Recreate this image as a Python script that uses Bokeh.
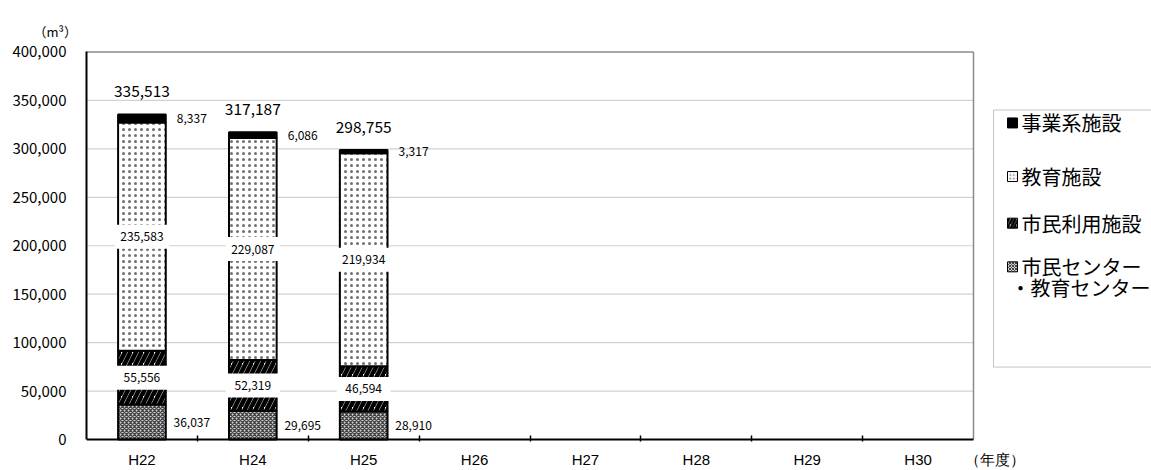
import numpy as np
from bokeh.plotting import figure
from bokeh.models import Range1d, FixedTicker, NumeralTickFormatter
from bokeh.core.properties import value
from bokeh.embed import file_html
from bokeh.resources import INLINE

# ---- data (m3 per fiscal year) ----
years = ["H22", "H24", "H25", "H26", "H27", "H28", "H29", "H30"]
center_vals = [36037, 29695, 28910]      # 市民センター・教育センター
civic_vals = [55556, 52319, 46594]       # 市民利用施設
school_vals = [235583, 229087, 219934]   # 教育施設
office_vals = [8337, 6086, 3317]         # 事業系施設
y_ticks = [0, 50000, 100000, 150000, 200000, 250000, 300000, 350000, 400000]
legend_labels = ["事業系施設", "教育施設", "市民利用施設", "市民センター", "・教育センター"]
unit_label = "（m³）"
year_unit_label = "（年度）"

# ---- layout constants ----
W, H = 1151, 470
LEFT, TOP, BOTTOM = 86, 50, 26
CAT_W = 887                      # pixel width of the category area
n = len(years)
ppu = CAT_W / n
x_end = (W - LEFT) / ppu
y_max = y_ticks[-1]
Y0_PX, YMAX_PX = 442.0, 51.5     # page rows of the zero line and the top line
k = y_max / (Y0_PX - YMAX_PX)
y_start = -((H - BOTTOM) - Y0_PX) * k
y_end = (Y0_PX - TOP) * k
BAR_W = 0.43

NUM_FONT = "Noto Sans CJK JP"
LAT_FONT = "Liberation Sans"
JP_FONT = "Noto Sans CJK JP"


def sx(px):
    return (px - LEFT) / ppu


def sy(py):
    return (Y0_PX - py) * k


p = figure(width=W, height=H, x_range=Range1d(0, x_end), y_range=Range1d(y_start, y_end),
           output_backend="svg", toolbar_location=None, title=unit_label,
           min_border_left=LEFT, min_border_right=0, min_border_top=TOP,
           min_border_bottom=BOTTOM)
p.outline_line_color = None
p.xgrid.visible = False
p.ygrid.visible = False
p.background_fill_color = "white"

p.title.align = "left"
p.title.offset = 33 - LEFT
p.title.standoff = 19
p.title.text_font = JP_FONT
p.title.text_font_size = "13px"
p.title.text_font_style = "normal"
p.title.text_color = "black"

# horizontal grid lines limited to the category area
grid_y = y_ticks[1:-1]
p.segment(x0=[0] * len(grid_y), x1=[n] * len(grid_y), y0=grid_y, y1=grid_y,
          line_color="#d2d2d2", line_width=1.2)
# top and right border of the plot area
p.segment(x0=[0, n], x1=[n, n], y0=[y_max, 0], y1=[y_max, y_max],
          line_color="#8a8a8a", line_width=1.5)

# ---- stacked bars ----
xs = np.arange(len(center_vals)) + 0.5
c = np.array(center_vals, dtype=float)
cv = np.array(civic_vals, dtype=float)
s = np.array(school_vals, dtype=float)
o = np.array(office_vals, dtype=float)
b1 = c
b2 = b1 + cv
b3 = b2 + s
tot = b3 + o

styles = {
    "center": dict(fill_color="#d0d0d0", hatch_pattern="diagonal_cross", hatch_color="#444444",
                   hatch_scale=4, hatch_weight=1.3),
    "civic": dict(fill_color="white", hatch_pattern="right_diagonal_line", hatch_color="black",
                  hatch_scale=11, hatch_weight=4.5),
    "school": dict(fill_color="white", hatch_pattern="dot", hatch_color="#707070",
                   hatch_scale=6, hatch_weight=1.3),
    "office": dict(fill_color="black"),
}

p.vbar(x=xs, width=BAR_W, bottom=0, top=b1, line_color="black", line_width=2, **styles["center"])
p.vbar(x=xs, width=BAR_W, bottom=b1, top=b2, line_color="black", line_width=2, **styles["civic"])
p.vbar(x=xs, width=BAR_W, bottom=b2, top=b3, line_color="black", line_width=2, **styles["school"])
p.vbar(x=xs, width=BAR_W, bottom=b3, top=tot, line_color="black", line_width=2, **styles["office"])

# x axis base line across the category area only
p.segment(x0=[0], x1=[n], y0=[0], y1=[0], line_color="black", line_width=2)


def fmt(v):
    return f"{int(v):,}"


# boxed labels in the middle of the two tall segments
for mids, vals in ((b1 + cv / 2, cv), (b2 + s / 2, s)):
    p.rect(x=xs, y=mids, width=54, height=24, width_units="screen", height_units="screen",
           fill_color="white", line_color=None)
    p.text(x=xs, y=mids, text=[fmt(v) for v in vals], text_align="center",
           text_baseline="middle", text_font=value(NUM_FONT), text_font_size="12px",
           text_color="black")

# labels beside the bar for the thin segments
for mids, vals in ((c / 2, c), (b3 + o / 2, o)):
    p.text(x=xs + 0.45, y=mids, text=[fmt(v) for v in vals], text_align="center",
           text_baseline="middle", text_font=value(NUM_FONT), text_font_size="12px",
           text_color="black")

# totals above each bar
p.text(x=xs, y=tot, y_offset=-23, text=[fmt(v) for v in tot], text_align="center",
       text_baseline="middle", text_font=value(NUM_FONT), text_font_size="15.5px",
       text_color="black")

# ---- legend ----
p.quad(left=sx(993), right=x_end + 1, top=sy(110), bottom=sy(369),
       fill_color="white", line_color="#c4c4c4", line_width=1)
rows_py = [123, 177, 224, 268]
marker_styles = [styles["office"], styles["school"], styles["civic"], styles["center"]]
for py, st in zip(rows_py, marker_styles):
    st2 = dict(st)
    if "hatch_scale" in st2:
        st2["hatch_scale"] = max(3, st2["hatch_scale"] * 0.6)
        st2["hatch_weight"] = max(1.0, st2["hatch_weight"] * 0.6)
    p.rect(x=sx(1012), y=sy(py), width=10, height=10, width_units="screen",
           height_units="screen", line_color="black", line_width=1, **st2)
p.text(x=[sx(1021)] * 4, y=[sy(v) for v in rows_py], text=legend_labels[:4],
       text_align="left", text_baseline="middle", text_font=value(JP_FONT),
       text_font_size="20px", text_color="black")
p.text(x=[sx(1010)], y=[sy(289)], text=legend_labels[4:], text_align="left",
       text_baseline="middle", text_font=value(JP_FONT), text_font_size="20px",
       text_color="black")

# ---- axes ----
yax = p.yaxis[0]
yax.ticker = FixedTicker(ticks=y_ticks)
yax.formatter = NumeralTickFormatter(format="0,0")
yax.bounds = (0, y_max)
yax.major_tick_in = 0
yax.major_tick_out = 0
yax.minor_tick_in = 0
yax.minor_tick_out = 0
yax.axis_line_width = 2
yax.axis_line_color = "black"
yax.major_label_standoff = 20
yax.major_label_text_font = NUM_FONT
yax.major_label_text_font_size = "15px"
yax.major_label_text_color = "black"

unit_pos = sx(994)
xax = p.xaxis[0]
xax.ticker = FixedTicker(ticks=[i + 0.5 for i in range(n)] + [unit_pos],
                         minor_ticks=list(range(1, n)))
overrides = {i + 0.5: years[i] for i in range(n)}
overrides[unit_pos] = year_unit_label
xax.major_label_overrides = overrides
xax.axis_line_color = None
xax.major_tick_in = 0
xax.major_tick_out = 0
xax.minor_tick_in = 6
xax.minor_tick_out = 0
xax.minor_tick_line_color = "black"
xax.minor_tick_line_width = 1.5
xax.major_label_standoff = 9
xax.major_label_text_font = LAT_FONT
xax.major_label_text_font_size = "15px"
xax.major_label_text_color = "black"

open("out.html", "w").write(file_html(p, INLINE))
